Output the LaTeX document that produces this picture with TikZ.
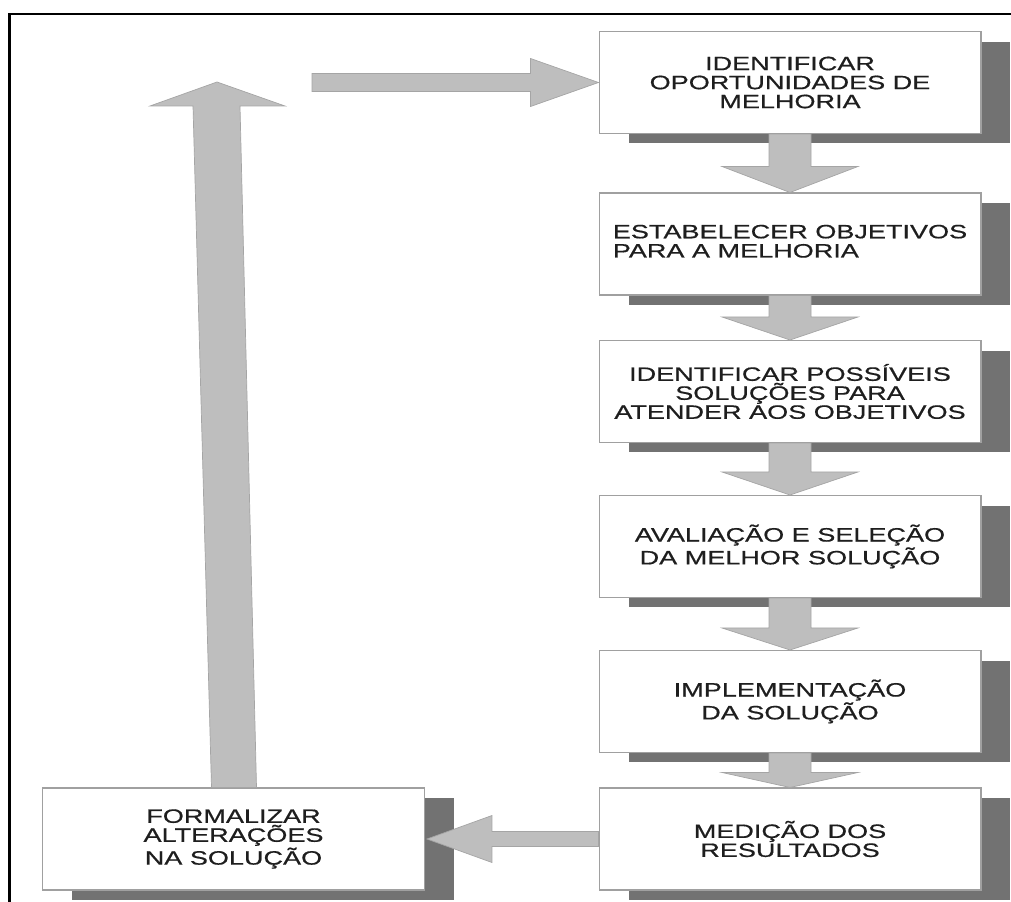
\documentclass[tikz,border=0pt]{standalone}
\usepackage{fontspec}
\newfontfamily\boxfont[FakeStretch=1.4,FakeBold=0.6]{Liberation Sans}
\usetikzlibrary{calc,shadows}
\definecolor{shadowc}{HTML}{727272}
\definecolor{arrowfill}{HTML}{BEBEBE}
\definecolor{arrowedge}{HTML}{A5A5A5}
\definecolor{boxedge}{HTML}{A0A0A0}
\definecolor{inkc}{HTML}{1E1E1E}

% block arrow pointing down from the bottom of one box to the top of the next
\newcommand\blockdown[3]{%
  \path[blockarrow] ($(#1.south)+(-21,0)$) -- ($(#1.south)+(21,0)$)
    -- ($(#2.north)+(21,-#3)$) -- ($(#2.north)+(68,-#3)$) -- (#2.north)
    -- ($(#2.north)+(-68,-#3)$) -- ($(#2.north)+(-21,-#3)$) -- cycle;}

\begin{document}
\begin{tikzpicture}[x=0.02cm,y=-0.02cm,
  stepbox/.style={draw=boxedge, line width=0.6pt, fill=white,
    minimum width=7.64cm, minimum height=2.04cm, inner sep=0pt,
    align=center, text=inkc,
    font=\boxfont\fontsize{11pt}{10.8pt}\selectfont,
    drop shadow={shadow xshift=0.59cm, shadow yshift=-0.2cm, fill=shadowc, opacity=1}},
  blockarrow/.style={fill=arrowfill, draw=arrowedge, line width=0.4pt, line join=miter},
  frameline/.style={line width=1.4pt, black}]

\useasboundingbox (0,0) rectangle (1011,902);

% outer frame (top and left sides)
\draw[frameline] (9.5,902) -- (9.5,14) -- (1011,14);

% process steps
\node[stepbox] (b1) at (790,82.5) {IDENTIFICAR\\OPORTUNIDADES DE\\MELHORIA};
\node[stepbox] (b2) at (790,244) {\begin{tabular}{@{}l@{}}ESTABELECER OBJETIVOS\\PARA A MELHORIA\end{tabular}};
\node[stepbox] (b3) at (790,391.5) {IDENTIFICAR POSSÍVEIS\\SOLUÇÕES PARA\\ATENDER AOS OBJETIVOS};
\node[stepbox] (b4) at (790,546.5) {AVALIAÇÃO E SELEÇÃO\\DA MELHOR SOLUÇÃO};
\node[stepbox] (b5) at (790,701.5) {IMPLEMENTAÇÃO\\DA SOLUÇÃO};
\node[stepbox] (b6) at (790,839) {MEDIÇÃO DOS\\RESULTADOS};
\node[stepbox] (b7) at (233.5,839) {FORMALIZAR\\ALTERAÇÕES\\NA SOLUÇÃO};

% downward flow
\blockdown{b1}{b2}{26}
\blockdown{b2}{b3}{23}
\blockdown{b3}{b4}{23}
\blockdown{b4}{b5}{22}
\blockdown{b5}{b6}{15}

% from the measurement back to the formalisation box
\coordinate (ltip) at ($(b7.east)+(2,0)$);
\path[blockarrow] ($(b6.west)+(0,-7.5)$) -- ($(ltip)+(65,-7.5)$) -- ($(ltip)+(65,-23.5)$)
  -- (ltip) -- ($(ltip)+(65,23.5)$) -- ($(ltip)+(65,7.5)$) -- ($(b6.west)+(0,7.5)$) -- cycle;

% long return arrow going up
\coordinate (uptip) at (217,82);
\path[blockarrow] ($(b7.north)+(-22,0)$) -- ($(uptip)+(-24,24)$) -- ($(uptip)+(-67,24)$)
  -- (uptip) -- ($(uptip)+(68,24)$) -- ($(uptip)+(23,24)$) -- ($(b7.north)+(23,0)$) -- cycle;

% arrow into the first step
\coordinate (loopstart) at (312,82.5);
\path[blockarrow] ($(loopstart)+(0,-9)$) -- ($(b1.west)+(-68,-9)$) -- ($(b1.west)+(-68,-24)$)
  -- (b1.west) -- ($(b1.west)+(-68,24)$) -- ($(b1.west)+(-68,9)$) -- ($(loopstart)+(0,9)$) -- cycle;
\end{tikzpicture}
\end{document}
